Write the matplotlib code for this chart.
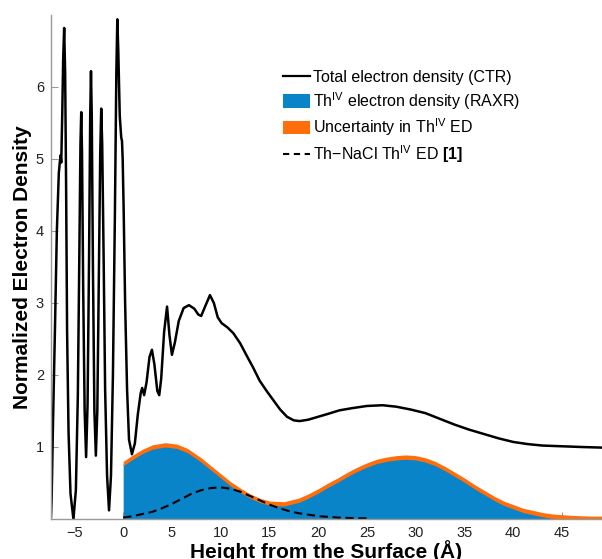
import matplotlib as mpl
mpl.use('Agg')
import matplotlib.pyplot as plt
from matplotlib.patches import Patch
from matplotlib.lines import Line2D

plt.rcParams['font.family'] = ['Liberation Sans', 'DejaVu Sans']
plt.rcParams['mathtext.fontset'] = 'custom'
plt.rcParams['mathtext.rm'] = 'Liberation Sans'
plt.rcParams['mathtext.bf'] = 'Liberation Sans:bold'

# total electron density from CTR
ctr_x = [-7.4, -7.33, -7.2, -7.0, -6.8, -6.6, -6.5, -6.42, -6.35, -6.25, -6.15, -6.05,
         -5.95, -5.85, -5.75, -5.6, -5.4, -5.1, -4.85, -4.65, -4.5, -4.38, -4.3, -4.22,
         -4.1, -3.95, -3.8, -3.65, -3.5, -3.38, -3.3, -3.22, -3.1, -2.95, -2.8, -2.65,
         -2.5, -2.35, -2.25, -2.15, -2.0, -1.85, -1.65, -1.45, -1.25, -1.05, -0.85, -0.7,
         -0.6, -0.5, -0.35, -0.2, -0.12, -0.05, 0.05, 0.2, 0.4, 0.6, 0.9, 1.2, 1.5, 1.8,
         1.95, 2.15, 2.4, 2.7, 2.95, 3.2, 3.5, 3.7, 3.9, 4.2, 4.5, 4.75, 5.0, 5.3, 5.7,
         6.2, 6.75, 7.3, 7.7, 8.0, 8.4, 8.9, 9.3, 9.7, 10.1, 10.7, 11.3, 12.0, 12.7, 13.3,
         14.0, 14.7, 15.4, 16.1, 16.8, 17.5, 18.1, 19.0, 20.0, 21.0, 22.2, 23.5, 25.0,
         26.6, 28.0, 29.5, 31.0, 32.5, 34.0, 35.5, 37.0, 38.5, 40.0, 41.5, 43.0, 45.0,
         47.0, 49.5]
ctr_y = [0.03, 0.3, 1.3, 2.6, 4.0, 4.8, 4.95, 5.05, 4.95, 5.6, 6.4, 6.82,
         6.2, 4.6, 2.6, 1.2, 0.35, 0.0, 0.4, 1.7, 3.6, 5.2, 5.65, 5.1,
         3.2, 1.5, 0.86, 1.6, 3.6, 5.6, 6.22, 5.6, 3.5, 1.5, 0.88, 1.5,
         3.3, 5.1, 5.7, 5.2, 3.6, 1.8, 0.6, 0.12, 0.6, 2.0, 4.2, 6.2,
         6.94, 6.5, 5.6, 5.3, 5.25, 5.0, 4.3, 3.0, 1.8, 1.1, 0.9, 1.05, 1.45, 1.75,
         1.82, 1.72, 1.9, 2.25, 2.35, 2.15, 1.78, 1.72, 1.95, 2.6, 2.95, 2.55, 2.28, 2.45, 2.75,
         2.93, 2.97, 2.92, 2.84, 2.82, 2.95, 3.11, 3.0, 2.8, 2.72, 2.66, 2.58, 2.44, 2.26, 2.11,
         1.92, 1.78, 1.65, 1.52, 1.42, 1.37, 1.36, 1.38, 1.42, 1.46, 1.51, 1.54, 1.57,
         1.58, 1.56, 1.52, 1.47, 1.39, 1.31, 1.24, 1.18, 1.12, 1.07, 1.04, 1.02, 1.01,
         1.0, 0.99]

# Th(IV) electron density from RAXR
th_x = [0, 1, 2, 3, 4.3, 5.5, 6.6, 8, 8.9, 10, 11, 12, 13, 14, 15, 16.5, 18, 19, 20, 21,
        22, 23, 24, 25, 26, 27, 28, 29, 30, 31, 32, 33, 34, 35, 36, 37, 38, 39, 40, 41,
        42, 43, 44, 45, 46, 47, 48, 49.5]
th_y = [0.77, 0.86, 0.94, 1.0, 1.03, 1.01, 0.95, 0.82, 0.72, 0.6, 0.49, 0.40, 0.32, 0.26,
        0.22, 0.21, 0.26, 0.32, 0.39, 0.47, 0.54, 0.62, 0.69, 0.75, 0.80, 0.83, 0.85, 0.86,
        0.85, 0.82, 0.77, 0.70, 0.62, 0.54, 0.45, 0.37, 0.29, 0.22, 0.17, 0.12, 0.09, 0.06,
        0.04, 0.03, 0.02, 0.015, 0.01, 0.01]
th_err = 0.03

# Th-NaCl reference profile
nacl_x = [0, 1, 2, 3, 4, 5, 6, 7, 8, 9, 10, 11, 12, 13, 14, 15, 16, 17, 18, 19, 20, 21,
          22, 23, 24, 25]
nacl_y = [0.02, 0.04, 0.07, 0.10, 0.15, 0.21, 0.28, 0.35, 0.40, 0.43, 0.44, 0.42, 0.38,
          0.32, 0.26, 0.20, 0.15, 0.11, 0.08, 0.06, 0.04, 0.03, 0.02, 0.015, 0.01, 0.01]

blue = '#0a84c8'
orange = '#ff6e0a'

fig = plt.figure(figsize=(6.02, 5.59), dpi=100)
ax = fig.add_axes([51/602, 1-519/559, 1-51/602, (519-15)/559])

th_lo = [v - th_err for v in th_y]
th_hi = [v + th_err for v in th_y]
ax.fill_between(th_x, 0, th_y, color=blue, lw=0)
ax.fill_between(th_x, th_lo, th_hi, color=orange, lw=0)
ax.plot(nacl_x, nacl_y, '--', color='k', lw=1.5, dashes=(4, 2.2))
ax.plot(ctr_x, ctr_y, '-', color='k', lw=1.8)

ax.set_xlim(-7.4, 49.1)
ax.set_ylim(0, 7)
ax.set_xticks(range(-5, 50, 5))
ax.set_yticks(range(1, 7))
ax.set_xticklabels(['\u22125'] + [str(v) for v in range(0, 50, 5)])
ax.set_axisbelow(True)
ax.tick_params(direction='in', length=5, width=0.8, color='#999999',
               labelsize=10.5, labelcolor='#222222', pad=5)
for s in ['top', 'right']:
    ax.spines[s].set_visible(False)
for s in ['left', 'bottom']:
    ax.spines[s].set_color('#999999')
    ax.spines[s].set_linewidth(1.0)

ax.set_xlabel('Height from the Surface (\u00c5)', fontsize=15, fontweight='bold', labelpad=0)
ax.set_ylabel('Normalized Electron Density', fontsize=15, fontweight='bold', labelpad=3)

handles = [Line2D([], [], color='k', lw=1.6),
           Patch(facecolor=blue, edgecolor='none'),
           Patch(facecolor=orange, edgecolor='none'),
           Line2D([], [], color='k', lw=1.5, ls='--', dashes=(3, 2.2))]
labels = ['Total electron density (CTR)',
          'Th$^{\\mathrm{IV}}$ electron density (RAXR)',
          'Uncertainty in Th$^{\\mathrm{IV}}$ ED',
          'Th\u2212NaCl Th$^{\\mathrm{IV}}$ ED $\\mathbf{[1]}$']
fig.legend(handles, labels, loc='upper left', bbox_to_anchor=(275/602, 1-62/559),
           frameon=False, fontsize=11.5, handlelength=1.7, handleheight=0.9,
           handletextpad=0.2, labelspacing=0.3, borderpad=0)

fig.savefig('out.png', dpi=100)
